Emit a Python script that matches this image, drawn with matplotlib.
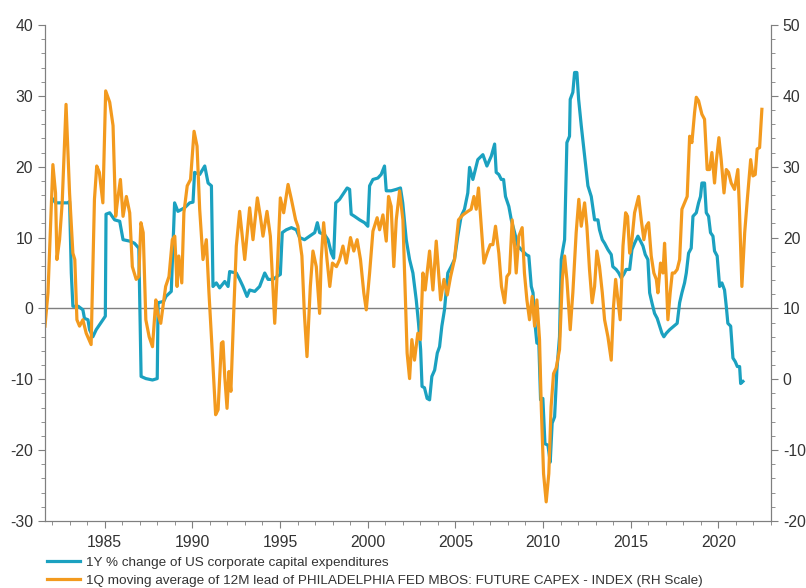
import matplotlib.pyplot as plt
from matplotlib.ticker import MultipleLocator
from matplotlib.lines import Line2D

plt.rcParams['font.family'] = ['Liberation Sans', 'DejaVu Sans']
plt.rcParams['axes.unicode_minus'] = False

# --- DATA ---
# 1Y % change of US corporate capex (left scale)
capex_years = [
    1982.05, 1982.2, 1982.9, 1983.0, 1983.1, 1983.19, 1983.5, 1983.76, 1983.85, 1984.05,
    1984.14, 1984.33, 1984.52, 1984.71, 1984.9, 1985.04, 1985.08, 1985.29, 1985.57, 1985.86,
    1986.05, 1986.43, 1986.7, 1986.95, 1987.08, 1987.35, 1987.73, 1988.0, 1988.05, 1988.37,
    1988.5, 1988.8, 1988.99, 1989.18, 1989.56, 1989.85, 1990.04, 1990.13, 1990.42, 1990.71,
    1990.9, 1991.09, 1991.18, 1991.37, 1991.56, 1991.85, 1992.04, 1992.13, 1992.51, 1992.7,
    1992.89, 1993.12, 1993.27, 1993.56, 1993.84, 1994.13, 1994.32, 1994.6, 1994.83, 1995.02,
    1995.13, 1995.36, 1995.65, 1995.93, 1996.12, 1996.4, 1996.69, 1996.98, 1997.13, 1997.26,
    1997.55, 1997.74, 1997.93, 1998.06, 1998.18, 1998.4, 1998.59, 1998.83, 1998.97, 1999.06,
    1999.25, 1999.54, 1999.82, 2000.01, 2000.11, 2000.3, 2000.58, 2000.77, 2000.96, 2001.06,
    2001.34, 2001.63, 2001.87, 2002.0, 2002.2, 2002.39, 2002.58, 2002.77, 2002.9, 2003.02,
    2003.1, 2003.24, 2003.39, 2003.53, 2003.66, 2003.82, 2003.97, 2004.1, 2004.23, 2004.38,
    2004.57, 2004.76, 2004.95, 2005.14, 2005.33, 2005.52, 2005.71, 2005.81, 2006.0, 2006.28,
    2006.57, 2006.8, 2007.05, 2007.24, 2007.33, 2007.48, 2007.62, 2007.75, 2007.86, 2008.05,
    2008.19, 2008.38, 2008.57, 2008.76, 2009.04, 2009.19, 2009.33, 2009.43, 2009.52, 2009.65,
    2009.76, 2009.86, 2009.99, 2010.11, 2010.28, 2010.41, 2010.52, 2010.66, 2010.79, 2010.94,
    2011.04, 2011.13, 2011.23, 2011.36, 2011.51, 2011.55, 2011.7, 2011.8, 2011.93, 2012.03,
    2012.18, 2012.37, 2012.56, 2012.75, 2012.94, 2013.13, 2013.22, 2013.38, 2013.51, 2013.7,
    2013.89, 2013.98, 2014.17, 2014.32, 2014.46, 2014.6, 2014.74, 2014.94, 2015.07, 2015.22,
    2015.41, 2015.56, 2015.7, 2015.83, 2015.98, 2016.08, 2016.21, 2016.36, 2016.51, 2016.65,
    2016.78, 2016.89, 2017.03, 2017.22, 2017.46, 2017.65, 2017.79, 2017.92, 2018.07, 2018.17,
    2018.3, 2018.45, 2018.55, 2018.74, 2018.87, 2018.98, 2019.06, 2019.21, 2019.31, 2019.44,
    2019.55, 2019.69, 2019.78, 2019.93, 2020.07, 2020.2, 2020.35, 2020.45, 2020.54, 2020.7,
    2020.83, 2020.96, 2021.08, 2021.21, 2021.27, 2021.4,
]
capex_vals = [
    15.4, 14.9, 14.9, 15.1, 5.0, 0.3, 0.3, -0.2, -1.4, -1.6,
    -3.0, -4.0, -3.0, -2.3, -1.6, -1.1, 13.3, 13.5, 12.5, 12.3,
    9.7, 9.5, 9.2, 8.5, -9.6, -9.9, -10.1, -9.9, 0.8, 1.0,
    1.7, 2.4, 14.9, 13.7, 14.2, 14.9, 15.0, 19.2, 18.9, 20.1,
    17.7, 17.3, 3.1, 3.6, 2.9, 3.8, 3.1, 5.2, 5.0, 4.1,
    3.1, 1.7, 2.6, 2.4, 3.1, 5.0, 4.1, 4.1, 4.5, 4.8,
    10.7, 11.1, 11.4, 11.1, 10.0, 9.7, 10.2, 10.7, 12.1, 10.7,
    10.4, 9.7, 7.8, 7.1, 14.9, 15.4, 16.1, 17.0, 16.8, 13.3,
    13.0, 12.5, 12.1, 11.6, 17.3, 18.2, 18.4, 18.9, 20.1, 16.6,
    16.6, 16.8, 17.0, 14.9, 9.7, 6.9, 5.0, 1.2, -2.1, -5.8,
    -11.0, -11.2, -12.7, -12.9, -9.6, -8.7, -6.3, -5.4, -2.5, -0.2,
    5.0, 5.9, 6.9, 10.2, 13.0, 14.0, 16.3, 19.9, 18.2, 21.0,
    21.7, 20.1, 21.5, 23.2, 19.2, 18.9, 18.2, 18.2, 15.8, 14.4,
    12.5, 10.7, 8.8, 8.3, 7.6, 7.4, 3.1, 2.2, -1.6, -4.9,
    -4.9, -12.9, -12.7, -19.1, -19.3, -21.7, -16.2, -15.3, -8.7, -4.0,
    6.9, 8.3, 9.7, 23.4, 24.3, 29.5, 30.5, 33.3, 33.3, 29.5,
    25.8, 21.5, 17.3, 15.8, 12.5, 12.5, 11.1, 9.7, 9.2, 8.3,
    7.6, 5.9, 5.5, 5.0, 4.3, 4.8, 5.5, 5.5, 8.3, 9.2,
    10.2, 9.5, 8.8, 7.6, 6.9, 2.2, 0.8, -0.7, -1.4, -2.5,
    -3.5, -4.0, -3.5, -3.0, -2.5, -2.1, 0.8, 2.2, 3.6, 5.0,
    7.8, 8.5, 13.0, 13.5, 14.9, 15.8, 17.7, 17.7, 13.5, 13.0,
    10.7, 10.2, 8.1, 7.4, 3.1, 3.6, 2.6, 0.3, -2.1, -2.5,
    -7.0, -7.5, -8.2, -8.2, -10.6, -10.3,
]

# Philly Fed future capex index, 1Q mov. avg, 12M lead (right scale)
philly_years = [
    1981.6, 1981.77, 1982.05, 1982.2, 1982.28, 1982.43, 1982.58, 1982.8, 1983.0, 1983.19,
    1983.3, 1983.42, 1983.57, 1983.76, 1983.95, 1984.23, 1984.42, 1984.55, 1984.7, 1984.9,
    1985.06, 1985.29, 1985.48, 1985.63, 1985.72, 1985.9, 1986.05, 1986.24, 1986.43, 1986.58,
    1986.8, 1986.95, 1987.07, 1987.2, 1987.35, 1987.54, 1987.73, 1987.92, 1988.03, 1988.2,
    1988.48, 1988.67, 1988.86, 1989.0, 1989.13, 1989.23, 1989.4, 1989.52, 1989.71, 1989.9,
    1990.1, 1990.27, 1990.42, 1990.61, 1990.8, 1990.95, 1991.09, 1991.33, 1991.47, 1991.66,
    1991.75, 1991.85, 1991.98, 1992.09, 1992.2, 1992.36, 1992.51, 1992.7, 1992.99, 1993.27,
    1993.46, 1993.71, 1993.88, 1994.03, 1994.26, 1994.45, 1994.7, 1994.83, 1995.02, 1995.21,
    1995.46, 1995.65, 1995.89, 1996.02, 1996.25, 1996.39, 1996.54, 1996.73, 1996.88, 1997.07,
    1997.26, 1997.35, 1997.49, 1997.68, 1997.84, 1997.99, 1998.22, 1998.4, 1998.59, 1998.78,
    1999.02, 1999.21, 1999.4, 1999.59, 1999.78, 1999.92, 2000.11, 2000.3, 2000.54, 2000.68,
    2000.87, 2001.06, 2001.19, 2001.34, 2001.49, 2001.63, 2001.82, 2002.01, 2002.14, 2002.25,
    2002.39, 2002.52, 2002.67, 2002.86, 2003.01, 2003.15, 2003.28, 2003.53, 2003.72, 2003.91,
    2004.16, 2004.35, 2004.54, 2004.73, 2004.95, 2005.18, 2005.43, 2005.71, 2005.9, 2006.06,
    2006.19, 2006.32, 2006.48, 2006.63, 2006.81, 2006.99, 2007.14, 2007.29, 2007.48, 2007.63,
    2007.81, 2007.94, 2008.09, 2008.24, 2008.38, 2008.47, 2008.62, 2008.81, 2008.94, 2009.08,
    2009.23, 2009.38, 2009.52, 2009.65, 2009.8, 2009.9, 2010.03, 2010.18, 2010.33, 2010.46,
    2010.6, 2010.75, 2010.94, 2011.1, 2011.23, 2011.36, 2011.55, 2011.7, 2011.89, 2012.04,
    2012.18, 2012.37, 2012.5, 2012.65, 2012.8, 2012.94, 2013.07, 2013.22, 2013.38, 2013.51,
    2013.7, 2013.89, 2014.02, 2014.14, 2014.27, 2014.4, 2014.56, 2014.71, 2014.82, 2014.94,
    2015.07, 2015.22, 2015.45, 2015.6, 2015.75, 2015.89, 2016.02, 2016.17, 2016.32, 2016.46,
    2016.55, 2016.7, 2016.84, 2016.93, 2017.03, 2017.12, 2017.25, 2017.37, 2017.5, 2017.65,
    2017.79, 2017.92, 2018.07, 2018.22, 2018.36, 2018.49, 2018.64, 2018.74, 2018.87, 2019.06,
    2019.21, 2019.36, 2019.5, 2019.63, 2019.78, 2019.89, 2020.03, 2020.16, 2020.32, 2020.45,
    2020.58, 2020.73, 2020.92, 2021.11, 2021.2, 2021.34, 2021.5, 2021.65, 2021.84, 2021.97,
    2022.1, 2022.21, 2022.35, 2022.48,
]
philly_vals = [
    7.5, 12.2, 30.3, 26.3, 16.9, 19.7, 24.9, 38.8, 26.3, 17.8,
    16.9, 8.4, 7.5, 8.4, 6.5, 4.9, 25.4, 30.1, 29.2, 24.9,
    40.7, 39.1, 35.8, 23.0, 24.9, 28.2, 23.0, 25.8, 23.5, 15.9,
    14.1, 14.5, 22.1, 20.7, 8.4, 6.0, 4.6, 11.2, 9.3, 7.9,
    13.1, 14.5, 19.7, 20.2, 13.1, 17.4, 13.6, 23.5, 27.3, 28.2,
    35.0, 32.9, 24.0, 16.9, 19.7, 12.2, 6.0, -5.0, -4.3, 5.1,
    5.3, 0.4, -4.1, 1.1, -1.7, 9.3, 18.8, 23.7, 16.9, 24.2,
    19.7, 25.6, 23.0, 20.2, 23.7, 20.2, 7.9, 14.5, 25.6, 23.5,
    27.5, 25.4, 22.5, 21.6, 17.4, 9.3, 3.2, 13.1, 18.1, 15.9,
    9.3, 16.9, 22.1, 16.9, 13.1, 16.4, 15.9, 16.9, 18.8, 16.4,
    20.0, 18.1, 19.7, 16.9, 12.2, 9.8, 15.0, 20.9, 22.8, 21.1,
    23.2, 19.5, 25.8, 24.4, 15.9, 22.5, 26.6, 22.5, 12.2, 3.7,
    0.1, 5.6, 2.7, 6.5, 5.6, 15.0, 12.6, 18.1, 12.6, 19.5,
    11.2, 14.1, 11.9, 14.5, 16.9, 22.5, 23.2, 23.7, 24.0, 25.8,
    24.0, 27.0, 21.6, 16.4, 17.8, 19.0, 19.0, 21.6, 17.8, 13.1,
    10.8, 14.5, 15.0, 22.5, 18.8, 15.0, 20.2, 21.4, 15.0, 11.2,
    8.4, 11.7, 7.5, 11.2, 5.6, -3.9, -13.3, -17.3, -13.3, -3.9,
    0.8, 1.6, 4.2, 14.1, 17.4, 14.1, 7.0, 12.2, 20.7, 25.4,
    21.6, 24.9, 21.6, 15.5, 10.8, 13.1, 18.1, 15.9, 12.2, 8.4,
    6.0, 2.7, 10.3, 14.1, 11.2, 8.4, 18.8, 23.5, 23.0, 17.8,
    19.7, 23.5, 25.8, 22.5, 19.7, 21.6, 22.1, 17.4, 15.0, 14.1,
    12.2, 16.4, 15.0, 19.2, 14.1, 8.4, 12.2, 15.0, 15.0, 15.5,
    16.9, 24.0, 24.9, 25.8, 34.3, 33.4, 37.6, 39.8, 39.3, 37.4,
    36.7, 29.6, 29.6, 32.0, 27.7, 31.0, 34.1, 31.0, 26.3, 29.6,
    29.2, 27.7, 26.8, 29.6, 24.0, 13.1, 20.7, 25.4, 31.0, 28.7,
    28.9, 32.5, 32.7, 38.1,
]

BLUE = '#1ba1c0'
ORANGE = '#f39a1e'
GREY = '#7f7f7f'
TEXT = '#333333'

labels = [
    '1Y % change of US corporate capital expenditures',
    '1Q moving average of 12M lead of PHILADELPHIA FED MBOS: FUTURE CAPEX - INDEX (RH Scale)',
]

# --- PLOT ---
fig = plt.figure(figsize=(8.06, 5.88), dpi=100)
ax = fig.add_axes([45 / 806, 67 / 588, 726 / 806, 496 / 588])
ax2 = ax.twinx()

ax.axhline(0, color=GREY, lw=1.0, zorder=1)
ax.plot(capex_years, capex_vals, color=BLUE, lw=2.3, zorder=2)
ax2.plot(philly_years, philly_vals, color=ORANGE, lw=2.3)

ax.set_xlim(1981.6, 2023.0)
ax.set_ylim(-30, 40)
ax2.set_ylim(-20, 50)

ax.xaxis.set_major_locator(MultipleLocator(5))
ax.xaxis.set_minor_locator(MultipleLocator(1))
for a in (ax, ax2):
    a.yaxis.set_major_locator(MultipleLocator(10))
    a.yaxis.set_minor_locator(MultipleLocator(2))
    a.spines['top'].set_visible(False)
    for s in ('left', 'right', 'bottom'):
        a.spines[s].set_color(GREY)
    a.tick_params(which='major', length=5, color=GREY, labelsize=11.3, labelcolor=TEXT)
    a.tick_params(which='minor', length=3, color=GREY)

ax.tick_params(axis='x', which='major', pad=5)

handles = [Line2D([], [], color=BLUE, lw=2.3), Line2D([], [], color=ORANGE, lw=2.3)]
fig.legend(handles, labels, loc='upper left', bbox_to_anchor=(42 / 806, 1 - 551 / 588),
           frameon=False, fontsize=9.7, handlelength=2.4, handletextpad=0.5,
           labelspacing=0.4, borderaxespad=0, labelcolor=TEXT)

fig.savefig('out.png', dpi=100)
